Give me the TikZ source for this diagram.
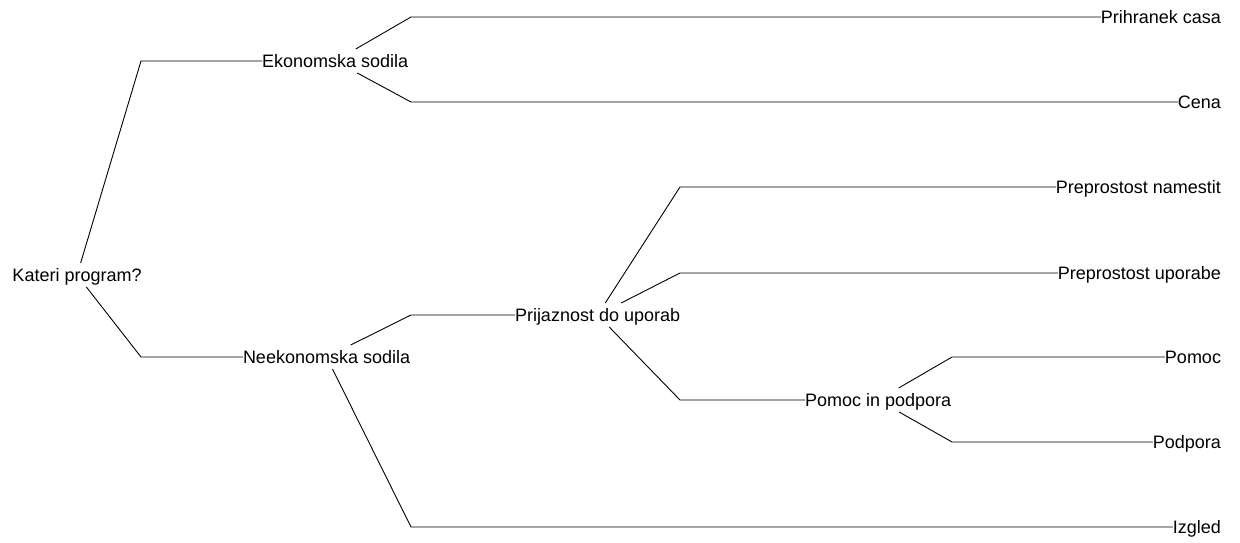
\documentclass[tikz,border=0pt]{standalone}
\usepackage{fontspec}
\setmainfont{Liberation Sans}

\begin{document}
\begin{tikzpicture}[x=1pt,y=-1pt,line width=0.9pt,
  lbl/.style={inner xsep=0pt,inner ysep=5.5pt,outer sep=0pt,
    text height=13pt,text depth=0pt,font=\fontsize{18}{20}\selectfont}]
\useasboundingbox (0,0) rectangle (1240,543);

% columns where the branches turn horizontal
\coordinate (c1) at (141,0);
\coordinate (c2) at (411,0);
\coordinate (c3) at (680,0);
\coordinate (c4) at (952,0);

% inner nodes
\node[lbl,anchor=west] (root)  at (12.5,275) {Kateri program?};
\node[lbl,anchor=west] (eko)   at (262,61)   {Ekonomska sodila};
\node[lbl,anchor=west] (neeko) at (243,357)  {Neekonomska sodila};
\node[lbl,anchor=west] (prij)  at (515,315)  {Prijaznost do uporab};
\node[lbl,anchor=west] (pomin) at (805,400)  {Pomoc in podpora};

% leaves, right aligned
\node[lbl,anchor=east] (prih)   at (1221,17)  {Prihranek casa};
\node[lbl,anchor=east] (cena)   at (1221,102) {Cena};
\node[lbl,anchor=east] (namest) at (1221,187) {Preprostost namestit};
\node[lbl,anchor=east] (upor)   at (1221,273) {Preprostost uporabe};
\node[lbl,anchor=east] (pomoc)  at (1221,357) {Pomoc};
\node[lbl,anchor=east] (podp)   at (1221,442) {Podpora};
\node[lbl,anchor=east] (izgled) at (1221,527) {Izgled};

% branches: slanted from the parent, then flat into the child
\foreach \p/\c/\k in {root/eko/c1, root/neeko/c1,
    eko/prih/c2, eko/cena/c2,
    neeko/prij/c2, neeko/izgled/c2,
    prij/namest/c3, prij/upor/c3, prij/pomin/c3,
    pomin/pomoc/c4, pomin/podp/c4} {
  \draw (\p) -- (\c.west -| \k) -- (\c.west);
}
\end{tikzpicture}
\end{document}
